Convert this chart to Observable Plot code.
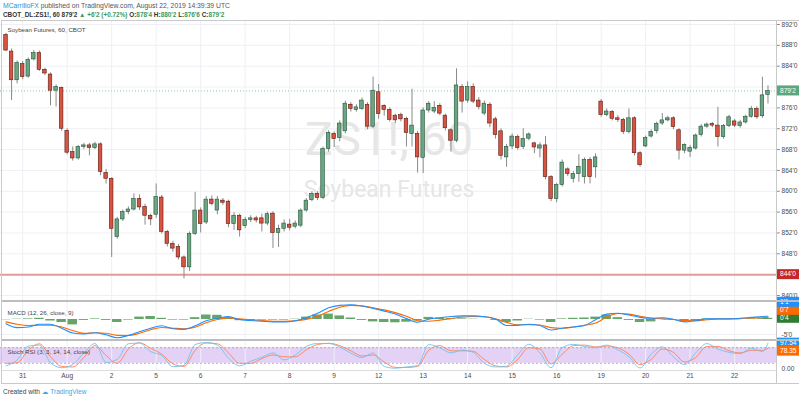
<!DOCTYPE html>
<html><head><meta charset="utf-8">
<script src="https://cdn.jsdelivr.net/npm/d3@7"></script>
<script src="https://cdn.jsdelivr.net/npm/@observablehq/plot@0.6"></script>
<style>
body{margin:0;background:#fff;font-family:"Liberation Sans","DejaVu Sans",sans-serif;}
#wrap{position:relative;width:800px;height:400px;overflow:hidden;background:#fff}
.abs{position:absolute;white-space:nowrap}
.hl{position:absolute;background:#c9c9c9}
.g{color:#3a9b5c}
</style></head><body><div id="wrap">
<div class="abs" style="left:3px;top:2px;font-size:6.8px;color:#555"><span style="color:#2a8fd8">MCarrilloFX</span> published on TradingView.com, August 22, 2019 14:39:39 UTC</div>
<div class="abs" style="left:3px;top:11px;font-size:6.4px;font-weight:bold;color:#333">CBOT_DL:ZS1!, 60 879'2 <span class="g">▲ +6'2 (+0.72%)</span> O:<span class="g">878'4</span> H:<span class="g">880'2</span> L:<span class="g">876'6</span> C:<span class="g">879'2</span></div>
<div id="main" class="abs" style="left:0;top:21px"></div>
<div id="macd" class="abs" style="left:0;top:301px"></div>
<div id="stoch" class="abs" style="left:0;top:340px"></div>
<div class="hl" style="left:1px;top:20px;width:798px;height:1px"></div>
<div class="hl" style="left:1px;top:300px;width:798px;height:2px;background:#bdbdbd"></div>
<div class="hl" style="left:1px;top:339px;width:798px;height:2px;background:#bdbdbd"></div>
<div class="hl" style="left:1px;top:370px;width:776px;height:1px;background:#dcdcdc"></div>
<div class="hl" style="left:1px;top:383px;width:798px;height:1px"></div>
<div class="hl" style="left:1px;top:20px;width:1px;height:364px"></div>
<div class="hl" style="left:776px;top:20px;width:1px;height:364px"></div>
<div class="abs" style="left:3px;top:388px;font-size:6.6px;color:#444">Created with <span style="color:#3ea6e0">☁ TradingView</span></div>
</div>
<script>
// ---- price data (hourly candles, bar index 0..137) ----
const opens  = [890.0,886.8,881.3,884.4,882.0,885.3,886.5,883.3,882.4,879.3,879.8,871.6,867.5,866.3,868.5,868.8,868.3,869.0,863.5,862.4,851.2,854.6,856.0,856.5,858.5,857.0,855.3,855.5,858.8,852.2,849.9,849.3,847.3,845.4,851.8,856.3,854.0,858.4,856.3,858.2,858.0,853.7,855.3,853.3,854.5,854.8,854.8,853.8,855.7,852.0,852.8,853.6,853.2,853.4,856.3,858.3,859.5,858.7,868.1,871.0,870.2,871.5,876.6,875.6,875.8,876.6,872.4,879.0,876.4,875.6,874.5,874.6,873.9,871.0,871.0,866.4,875.5,875.3,876.4,874.5,871.7,869.7,880.0,877.4,880.0,877.4,874.9,876.6,873.8,871.5,866.5,868.6,870.4,868.5,870.1,869.2,868.2,868.8,862.7,858.5,861.2,864.2,862.4,863.3,862.7,866.0,864.6,877.2,874.6,875.2,874.0,873.7,871.4,874.0,867.3,868.6,870.5,871.6,873.0,873.6,874.0,871.7,867.8,867.6,868.2,870.8,872.4,872.9,872.6,870.4,872.5,873.4,872.5,873.2,874.3,875.8,874.4,878.5];
const highs  = [890.3,887.3,885.0,884.9,885.6,887.0,886.9,883.6,882.7,880.4,880.0,872.0,868.5,868.8,869.2,869.2,869.4,869.3,864.2,862.6,855.0,856.4,857.0,859.5,859.3,857.5,855.6,861.4,859.2,852.5,850.4,849.8,847.6,852.2,859.8,856.8,859.0,859.1,859.0,858.6,858.3,855.9,855.6,855.0,855.3,855.2,855.6,856.0,856.1,853.5,854.5,854.6,854.3,856.6,858.6,859.9,859.9,868.5,871.6,871.4,873.5,877.3,877.0,876.6,877.9,877.0,881.9,880.5,876.6,876.0,874.8,875.0,874.2,879.6,871.5,876.0,877.2,877.2,876.8,874.8,872.0,883.5,880.5,881.0,880.6,878.0,877.3,877.0,874.2,872.0,869.0,871.0,870.8,872.0,871.2,869.4,869.3,870.5,863.0,861.5,866.0,864.5,863.8,867.0,866.4,866.5,867.2,877.6,875.8,875.5,874.5,874.0,875.8,874.3,867.6,870.6,871.8,873.3,874.9,874.4,874.3,872.0,869.1,868.8,871.0,872.8,873.1,873.2,876.1,872.8,874.6,873.8,873.6,874.6,876.3,876.2,881.9,880.25];
const lows   = [886.8,877.4,880.6,881.4,881.7,885.0,883.0,882.2,876.4,876.2,871.5,867.0,865.8,866.0,868.0,866.8,868.0,863.0,861.4,847.3,850.8,854.2,855.5,856.2,856.3,853.5,853.4,854.8,851.8,849.3,848.3,846.8,843.2,844.6,851.5,852.0,853.6,857.2,855.5,857.3,853.0,852.5,851.2,852.8,854.0,853.9,852.2,853.4,849.0,849.2,852.2,852.4,852.8,853.0,856.0,858.0,858.2,858.4,867.5,868.4,869.5,871.0,875.2,875.2,875.5,871.8,872.0,873.8,874.4,873.3,873.0,873.3,868.5,868.5,863.5,863.4,875.0,874.9,874.5,871.6,867.5,869.3,875.0,876.9,876.8,875.6,874.5,872.2,870.0,866.0,864.6,868.0,867.9,868.0,869.7,867.2,866.4,862.2,858.0,857.8,860.8,862.8,861.6,861.7,861.4,861.4,862.5,874.2,874.3,873.5,873.2,870.9,871.0,866.8,864.6,868.4,870.2,871.0,872.6,873.3,871.8,866.0,867.2,866.5,867.9,870.4,872.1,872.2,868.5,870.0,872.2,872.2,872.1,872.9,874.0,873.8,874.0,876.75];
const closes = [887.0,881.3,884.6,881.9,885.2,886.5,883.3,882.6,879.3,880.0,872.0,867.4,866.3,868.5,868.8,868.3,869.0,863.7,862.4,852.8,854.6,856.0,856.5,858.5,856.9,855.3,854.6,858.9,852.2,849.9,849.0,847.3,845.4,851.8,856.3,853.7,858.4,857.6,858.4,857.8,853.7,855.3,852.5,854.5,854.8,854.4,853.8,855.6,852.0,852.8,853.8,853.0,853.8,856.3,858.2,859.5,858.7,868.1,871.2,870.0,873.0,876.8,875.8,876.1,877.4,872.4,879.3,874.8,875.6,873.7,873.6,873.8,871.2,872.6,866.5,875.5,876.8,876.0,874.9,872.1,869.7,880.3,877.2,880.0,877.2,876.2,876.8,873.0,870.8,866.8,868.5,870.5,868.3,870.0,870.9,868.4,868.8,862.7,858.5,861.2,865.5,863.3,863.3,864.7,866.0,862.7,866.5,874.6,875.3,873.9,873.7,871.4,874.0,867.3,865.0,870.2,871.4,872.9,873.6,874.0,872.3,867.8,868.9,868.3,870.7,872.4,872.8,872.6,870.4,872.5,874.2,872.6,873.2,874.3,875.8,874.2,878.4,879.25];

const priceTicks = [840,844,848,852,856,860,864,868,872,876,880,884,888,892];
const supportLevel = 844;
const lastPrice = 879.25;

// ---- session (day) ticks ----
const dayTicks  = [3,11,19,27,35,43,51,59,67,75,83,91,99,107,115,123,131];
const dayLabels = ["31","Aug","2","5","6","7","8","9","12","13","14","15","16","19","20","21","22"];

// ---- indicators, sampled every second bar (last point = last bar) ----
const macdLine   = [-1.4,-2.7,-2.5,-1.6,-1.6,-2.9,-4.5,-4.8,-4.4,-5.1,-6.1,-5.3,-4.1,-2.9,-2.1,-3.1,-3.3,-2.1,-0.4,0.4,0.95,0.0,-0.35,-0.6,-0.8,-0.8,-0.4,0.6,2.1,3.9,4.7,4.9,4.5,3.7,2.8,1.8,0.3,-0.9,0.1,0.6,1.0,1.2,1.2,0.9,0.2,-2.0,-1.95,-1.6,-2.0,-3.5,-2.9,-2.5,-2.0,-0.1,1.8,2.1,1.5,0.7,0.4,0.6,0.1,-0.8,-0.4,0.2,0.2,0.2,0.4,0.7,1.0,1.1];
const signalLine = [-0.8,-1.6,-2.0,-1.9,-1.9,-2.5,-3.65,-4.6,-4.4,-4.6,-5.3,-5.35,-4.6,-3.4,-2.65,-2.9,-3.1,-2.6,-1.1,0.0,0.55,0.2,-0.1,-0.35,-0.6,-0.6,-0.45,0.05,1.1,2.7,4.1,4.7,4.55,3.9,3.2,2.3,1.1,-0.4,-0.6,-0.2,0.3,0.8,1.0,0.9,0.2,-0.95,-1.8,-1.75,-1.85,-2.7,-2.9,-2.5,-1.9,-1.2,0.8,2.0,1.8,1.1,0.5,0.2,0.0,-0.35,-0.4,-0.1,0.2,0.2,0.3,0.5,0.6,0.7];
const histogram  = [-0.1,0.1,0.2,0.4,-0.5,-1.0,-1.8,-0.3,0.2,-0.3,-1.0,-0.2,0.8,1.0,0.4,-0.2,-0.2,0.6,1.5,1.4,0.6,-0.4,-0.4,-0.2,-0.2,-0.2,0.1,0.8,1.5,1.8,1.2,0.5,-0.3,-0.8,-1.0,-1.1,-0.9,-0.5,0.7,0.5,0.3,0.2,0.1,0.0,-0.3,-1.0,-0.5,0.1,-0.2,-1.0,0.2,0.4,0.5,0.8,1.5,0.6,-0.3,-1.0,-0.8,0.1,0.0,-0.8,-0.5,0.2,0.1,0.1,0.1,0.2,0.3,0.4];
const stochK = [10,33,86,90,22,3,15,60,96,23,35,95,98,65,50,7,12,92,100,90,40,10,28,43,60,33,52,85,96,96,83,59,42,60,8,1,6,11,92,80,60,71,62,20,6,9,53,93,60,3,80,93,85,80,90,72,45,2,55,83,45,15,60,96,75,62,57,78,65,97.54];
const stochD = [20,22,70,95,45,8,6,42,88,50,20,75,99,78,55,18,8,70,98,95,60,20,20,38,52,45,45,72,92,97,88,68,48,52,25,4,4,8,70,88,68,68,66,35,10,6,35,80,75,18,55,88,90,83,86,80,55,15,35,75,62,25,42,85,85,68,60,70,70,78.35];

// ---- build tables ----
const lastBar = opens.length - 1;
const candles = opens.map((o, i) => ({i, open: o, high: highs[i], low: lows[i], close: closes[i], up: closes[i] >= o}));
const ind = macdLine.map((m, k) => ({t: Math.min(2 * k, lastBar), macd: m, signal: signalLine[k], hist: histogram[k], k: stochK[k], d: stochD[k]}));
const days = dayTicks.map((t, j) => ({t, label: dayLabels[j]}));
// axis labels hidden under the two price tags (as TradingView does)
const shownTicks = priceTicks.filter(t => Math.abs(t - supportLevel) > 1 && Math.abs(t - lastPrice) > 1.5);

const xDomain = [-0.99, 138.71];
const FONT = "Liberation Sans, DejaVu Sans, sans-serif";
const WM = "Roboto, Liberation Sans, sans-serif";
const GRID = "#eef0f4";
const AX = "#4a4a4a";
const common = {width: 800, marginLeft: 0, marginRight: 23, marginTop: 0,
  x: {domain: xDomain, range: [0, 777], axis: null},
  style: {background: "transparent", fontFamily: FONT, overflow: "visible"}};

function tag(svg, y, label, bg) {
  const g = d3.select(svg).append("g").attr("text-anchor", "start");
  g.append("rect").attr("x", 777).attr("y", y - 5).attr("width", 22).attr("height", 10).attr("fill", bg);
  g.append("text").attr("x", 780).attr("y", y).attr("dy", "0.35em").attr("fill", "#fff")
    .attr("text-anchor", "start").attr("font-size", 6.6).attr("font-family", FONT).text(label);
}

// ---- main price panel ----
const main = Plot.plot({...common, height: 280, marginBottom: 0,
  y: {domain: [840, 892], range: [274, 3], axis: null},
  marks: [
    Plot.ruleY(priceTicks, {stroke: GRID}),
    Plot.ruleX(days, {x: "t", stroke: GRID}),
    Plot.text(["ZS1!, 60"], {text: d => d, frameAnchor: "middle", dy: -22, fontSize: 47, fontFamily: WM, fill: "#e6e6e6"}),
    Plot.text(["Soybean Futures"], {text: d => d, frameAnchor: "middle", dy: 28, fontSize: 23, fontFamily: WM, fill: "#e6e6e6"}),
    Plot.ruleY([supportLevel], {stroke: "#e39a9a", strokeWidth: 2}),
    Plot.ruleY([lastPrice], {stroke: "#8cc7a4", strokeDasharray: "1,2"}),
    Plot.ruleX(candles, {x: "i", y1: "low", y2: "high", stroke: "#8a8a8c"}),
    Plot.rect(candles, {x1: d => d.i - 0.32, x2: d => d.i + 0.32, y1: "open", y2: "close",
      fill: d => d.up ? "#6ba583" : "#d75442", stroke: d => d.up ? "#225437" : "#5b1a13", strokeWidth: 0.6}),
    Plot.ruleY(priceTicks, {x1: xDomain[1], x2: xDomain[1] + 0.5, stroke: "#888"}),
    Plot.text(shownTicks, {y: d => d, text: d => `${d}'0`, frameAnchor: "right", dx: 4, textAnchor: "start", fontSize: 6.6, fill: AX}),
    Plot.text(["Soybean Futures, 60, CBOT"], {text: d => d, frameAnchor: "top-left", dx: 7, dy: 6, textAnchor: "start", fontSize: 6.2, fill: "#444"})
  ]});
document.getElementById("main").append(main);
const ym = main.scale("y");
tag(main, ym.apply(supportLevel), "844'0", "#c62828");
tag(main, ym.apply(lastPrice), "879'2", "#5aa77b");

// ---- MACD panel ----
const macd = Plot.plot({...common, height: 39, marginBottom: 0,
  y: {domain: [-5, 5], range: [33, 3], axis: null},
  marks: [
    Plot.ruleX(days, {x: "t", stroke: GRID}),
    Plot.ruleY([-5], {stroke: GRID}),
    Plot.rect(ind, {x1: d => d.t - 0.85, x2: d => d.t + 0.85, y1: d => 0, y2: "hist", fill: "#3f8f43", fillOpacity: 0.8}),
    Plot.line(ind, {x: "t", y: "signal", stroke: "#ff6a00", strokeWidth: 1.1, curve: "monotone-x"}),
    Plot.line(ind, {x: "t", y: "macd", stroke: "#1e90ff", strokeWidth: 1.1, curve: "monotone-x"}),
    Plot.text([-5], {y: d => d, text: d => `${d}'0`, frameAnchor: "right", dx: 4, textAnchor: "start", fontSize: 6.6, fill: AX}),
    Plot.text(["MACD (12, 26, close, 9)"], {text: d => d, frameAnchor: "top-left", dx: 7, dy: 9, textAnchor: "start", fontSize: 6.2, fill: "#444"})
  ]});
document.getElementById("macd").append(macd);
const yd = macd.scale("y");
const last = ind[ind.length - 1];
const yHist = yd.apply(last.hist);
tag(macd, yHist, "0'4", "#2e7d32");
tag(macd, yHist - 8, "0'7", "#ff6a00");
tag(macd, yHist - 16, "1'1", "#1e90ff");

// ---- Stoch RSI panel + time axis ----
const stoch = Plot.plot({...common, height: 44, marginBottom: 14,
  y: {domain: [0, 100], range: [28, 2], axis: null},
  marks: [
    Plot.rect([0], {x1: () => xDomain[0], x2: () => xDomain[1], y1: () => 20, y2: () => 80, fill: "#e4d2f6"}),
    Plot.ruleX(days, {x: "t", stroke: GRID}),
    Plot.ruleY([20, 80], {stroke: "#9a9a9a", strokeDasharray: "2,2", strokeWidth: 0.7}),
    Plot.line(ind, {x: "t", y: "d", stroke: "#ff7f50", strokeWidth: 0.9, curve: "monotone-x"}),
    Plot.line(ind, {x: "t", y: "k", stroke: "#6ec3f0", strokeWidth: 0.9, curve: "monotone-x"}),
    Plot.text([0], {y: d => d, text: d => "0.00", frameAnchor: "right", dx: 4, textAnchor: "start", fontSize: 6.6, fill: AX}),
    Plot.text(["Stoch RSI (3, 3, 14, 14, close)"], {text: d => d, frameAnchor: "top-left", dx: 7, dy: 9, textAnchor: "start", fontSize: 6.2, fill: "#444"}),
    Plot.text(days, {x: "t", text: "label", frameAnchor: "bottom", dy: 7, fontSize: 6.6, fill: AX})
  ]});
document.getElementById("stoch").append(stoch);
const ys = stoch.scale("y");
const yK = ys.apply(last.k);
tag(stoch, yK, "97.54", "#2196f3");
tag(stoch, Math.max(ys.apply(last.d), yK + 8), "78.35", "#ff6a00");
</script>
</body></html>
